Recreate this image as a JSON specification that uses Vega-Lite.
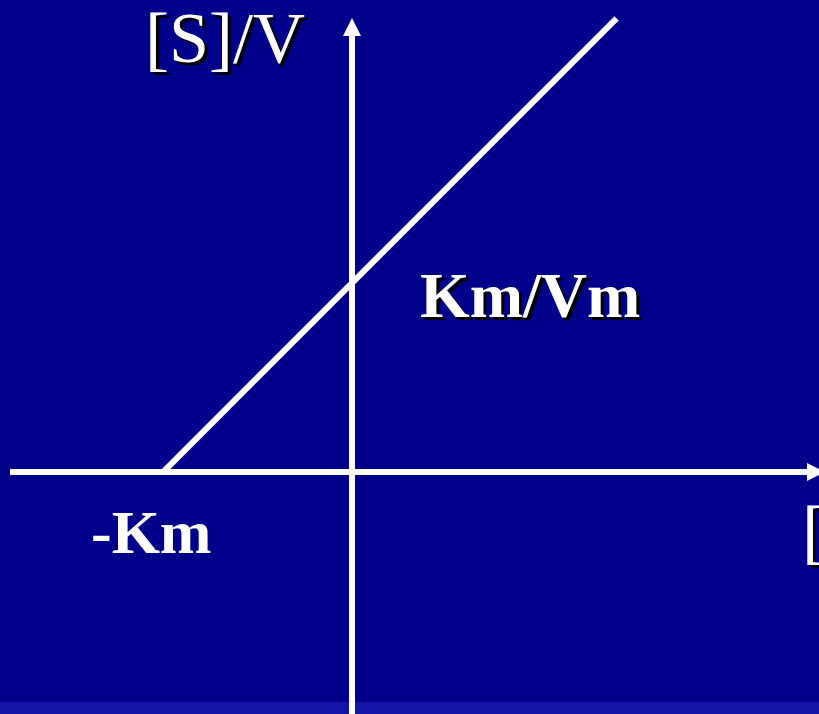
{
  "$schema": "https://vega.github.io/schema/vega-lite/v6.json",
  "autosize": {"type": "none"},
  "width": 819,
  "height": 714,
  "padding": 0,
  "background": "#00008b",
  "config": {"view": {"stroke": null}},
  "datasets": {
    "strip": [{"x": -1.8624, "x2": 2.4709, "y": -1.2804, "y2": -1.217}],
    "segments": [
      {"seg": "x-axis", "x": -1.8095, "y": 0, "x2": 2.4127, "y2": 0},
      {"seg": "y-axis", "x": 0, "y": -1.30, "x2": 0, "y2": 2.3069},
      {"seg": "line", "x": -1, "y": 0, "x2": 1.4, "y2": 2.4}
    ],
    "arrowsUp": [{"x": 0, "y": 2.3545}],
    "arrowsRight": [{"x": 2.455, "y": 0}],
    "labelsPlain": [
      {"label": "[S]/V", "x": -1.0952, "y": 2.169},
      {"label": "[S]", "x": 2.381, "y": -0.439}
    ],
    "labelsBold": [
      {"label": "Km/Vm", "x": 0.3598, "y": 0.82}
    ],
    "labelsBoldNoShadow": [
      {"label": "-Km", "x": -1.381, "y": -0.4286}
    ]
  },
  "encoding": {
    "x": {"field": "x", "type": "quantitative", "axis": null, "scale": {"domain": [-1.8624, 2.4709], "nice": false, "zero": false}},
    "y": {"field": "y", "type": "quantitative", "axis": null, "scale": {"domain": [-1.2804, 2.4974], "nice": false, "zero": false}}
  },
  "layer": [
    {
      "data": {"name": "strip"},
      "mark": {"type": "rect", "color": "#1414a6", "clip": true},
      "encoding": {"x2": {"field": "x2"}, "y2": {"field": "y2"}}
    },
    {
      "data": {"name": "segments"},
      "mark": {"type": "rule", "color": "white", "strokeWidth": 6, "strokeCap": "butt", "clip": true},
      "encoding": {"x2": {"field": "x2"}, "y2": {"field": "y2"}}
    },
    {
      "data": {"name": "arrowsUp"},
      "mark": {"type": "point", "shape": "M0,-1L1,1L-1,1Z", "size": 324, "filled": true, "color": "white", "opacity": 1, "strokeWidth": 0}
    },
    {
      "data": {"name": "arrowsRight"},
      "mark": {"type": "point", "shape": "M1,0L-1,-1L-1,1Z", "size": 324, "filled": true, "color": "white", "opacity": 1, "strokeWidth": 0, "clip": true}
    },
    {
      "data": {"name": "labelsPlain"},
      "mark": {"type": "text", "font": "Liberation Serif", "fontSize": 72, "align": "left", "baseline": "alphabetic", "color": "black", "dx": 3, "dy": 3},
      "encoding": {"text": {"field": "label"}}
    },
    {
      "data": {"name": "labelsPlain"},
      "mark": {"type": "text", "font": "Liberation Serif", "fontSize": 72, "align": "left", "baseline": "alphabetic", "color": "white"},
      "encoding": {"text": {"field": "label"}}
    },
    {
      "data": {"name": "labelsBold"},
      "mark": {"type": "text", "font": "Liberation Serif", "fontSize": 64, "fontWeight": "bold", "align": "left", "baseline": "alphabetic", "color": "black", "dx": 3, "dy": 3},
      "encoding": {"text": {"field": "label"}}
    },
    {
      "data": {"name": "labelsBold"},
      "mark": {"type": "text", "font": "Liberation Serif", "fontSize": 64, "fontWeight": "bold", "align": "left", "baseline": "alphabetic", "color": "white"},
      "encoding": {"text": {"field": "label"}}
    },
    {
      "data": {"name": "labelsBoldNoShadow"},
      "mark": {"type": "text", "font": "Liberation Serif", "fontSize": 62, "fontWeight": "bold", "align": "left", "baseline": "alphabetic", "color": "white"},
      "encoding": {"text": {"field": "label"}}
    }
  ]
}
